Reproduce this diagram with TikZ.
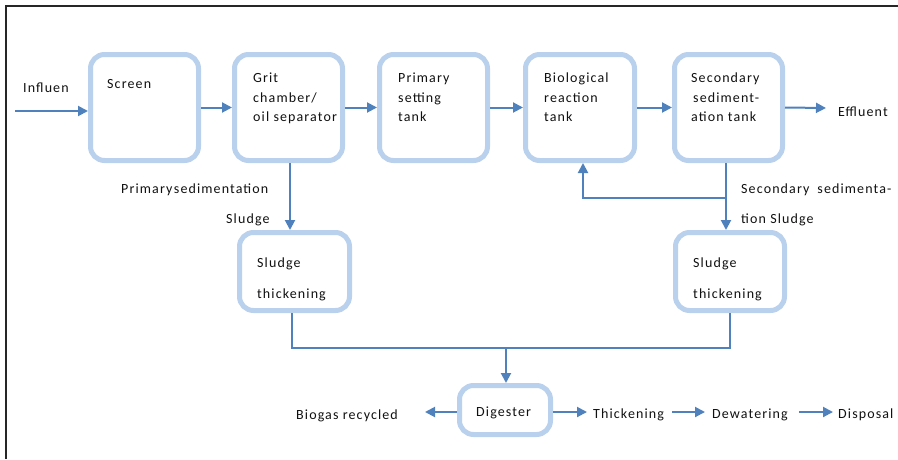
\documentclass[tikz,border=0pt]{standalone}
\usepackage{fontspec}
\setmainfont[LetterSpace=8]{Carlito}
\usetikzlibrary{arrows.meta,calc}
\definecolor{boxblue}{HTML}{B9D1EC}
\definecolor{arrblue}{HTML}{4F81BD}
\definecolor{txt}{HTML}{111111}
\tikzset{
  stage/.style={draw=boxblue, line width=5pt, rounded corners=14pt, fill=white, inner sep=0pt},
  lbl/.style={anchor=base west, inner sep=0pt, text=txt, font=\fontsize{14}{16}\selectfont},
  flow/.style={draw=arrblue, line width=2pt, -{Triangle[length=10pt,width=10pt]}},
  pipe/.style={draw=arrblue, line width=2pt},
}
\begin{document}
\begin{tikzpicture}[x=1pt,y=-1pt]
\useasboundingbox (0,0) rectangle (898,459);
\draw[line width=2.5pt, draw=black!85] (6,459) -- (6,6) -- (898,6);

% boxes
\node[stage, minimum width=108pt, minimum height=106pt] (screen) at (144.5,107.5) {};
\node[stage, minimum width=108pt, minimum height=106pt] (grit) at (288.5,107.5) {};
\node[stage, minimum width=108pt, minimum height=106pt] (prim) at (433.5,107.5) {};
\node[stage, minimum width=109pt, minimum height=106pt] (bio) at (580,107.5) {};
\node[stage, minimum width=108pt, minimum height=106pt] (sec) at (728.5,107.5) {};
\node[stage, minimum width=110pt, minimum height=78pt] (thL) at (294.5,271.5) {};
\node[stage, minimum width=109pt, minimum height=78pt] (thR) at (730,271.5) {};
\node[stage, minimum width=91pt, minimum height=49pt] (dig) at (505,410) {};

% box texts
\node[lbl] (tscreen) at (107,88) {Screen};
\node[lbl] (tgrit1) at (253,82) {Grit};
\node[lbl] (tgrit2) at (253,102) {chamber/};
\node[lbl] (tgrit3) at (253,121) {oil separator};
\node[lbl] (tprim1) at (398,82) {Primary};
\node[lbl] (tprim2) at (398,102) {setting};
\node[lbl] (tprim3) at (398,121) {tank};
\node[lbl] (tbio1) at (544,82) {Biological};
\node[lbl] (tbio2) at (544,102) {reaction};
\node[lbl] (tbio3) at (544,121) {tank};
\node[lbl] (tsec1) at (691,82) {Secondary};
\node[lbl] (tsec2) at (693,102) {sediment-};
\node[lbl] (tsec3) at (691,121) {ation tank};
\node[lbl] (tthL1) at (257,267) {Sludge};
\node[lbl] (tthL2) at (257,298) {thickening};
\node[lbl] (tthR1) at (693,267) {Sludge};
\node[lbl] (tthR2) at (693,298) {thickening};
\node[lbl] (tdig) at (476,416) {Digester};

% free labels
\node[lbl] (influen) at (23,92) {Influen};
\node[lbl] (effluent) at (838,116) {Effluent};
\node[lbl] (psed) at (121,193) {Primary\hspace{1.5pt}sedimentation};
\node[lbl] (psl) at (226,223) {Sludge};
\node[lbl] (ssed) at (741,193) {Secondary\hspace{8pt}sedimenta-};
\node[lbl] (ssl) at (741,223) {tion Sludge};
\node[lbl] (biogas) at (296,419) {Biogas recycled};
\node[lbl] (thick) at (593,418) {Thickening};
\node[lbl] (dew) at (712,418) {Dewatering};
\node[lbl] (disp) at (838,418) {Disposal};

% connectors
\coordinate (inStart) at (15,111);
\draw[flow] (inStart) -- (inStart -| screen.west);
\draw[flow] (screen.east) -- (grit.west);
\draw[flow] (grit.east) -- (prim.west);
\draw[flow] (prim.east) -- (bio.west);
\draw[flow] (bio.east) -- (sec.west);
\coordinate (effEnd) at (826,108);
\draw[flow] (sec.east) -- (effEnd);

\coordinate (gdown) at ($(grit.south)+(1.5,0)$);
\draw[flow] (gdown) -- (gdown |- thL.north);
\coordinate (sdown) at ($(sec.south)+(-2.5,0)$);
\draw[flow] (sdown) -- (sdown |- thR.north);
\coordinate (branch) at (sdown |- 0,198);
\coordinate (bioIn) at ($(bio.south)+(3,0)$);
\draw[flow] (branch) -| (bioIn);

\coordinate (merge) at (0,348);
\draw[pipe] ($(thL.south)+(-2.5,0)$) |- (merge -| thR.south) -- (thR.south);
\coordinate (digIn) at ($(dig.north |- merge)+(1,0)$);
\draw[flow] (digIn) -- (digIn |- dig.north);

\coordinate (bioOut) at (425,412);
\draw[flow] (dig.west |- bioOut) -- (bioOut);
\draw[flow] (dig.east |- bioOut) -- ($(thick.west |- bioOut)+(-6,0)$);
\draw[flow, shorten <=8pt, shorten >=7pt] (thick.east |- bioOut) -- (dew.west |- bioOut);
\draw[flow, shorten <=11pt, shorten >=5pt] (dew.east |- bioOut) -- (disp.west |- bioOut);
\end{tikzpicture}
\end{document}
